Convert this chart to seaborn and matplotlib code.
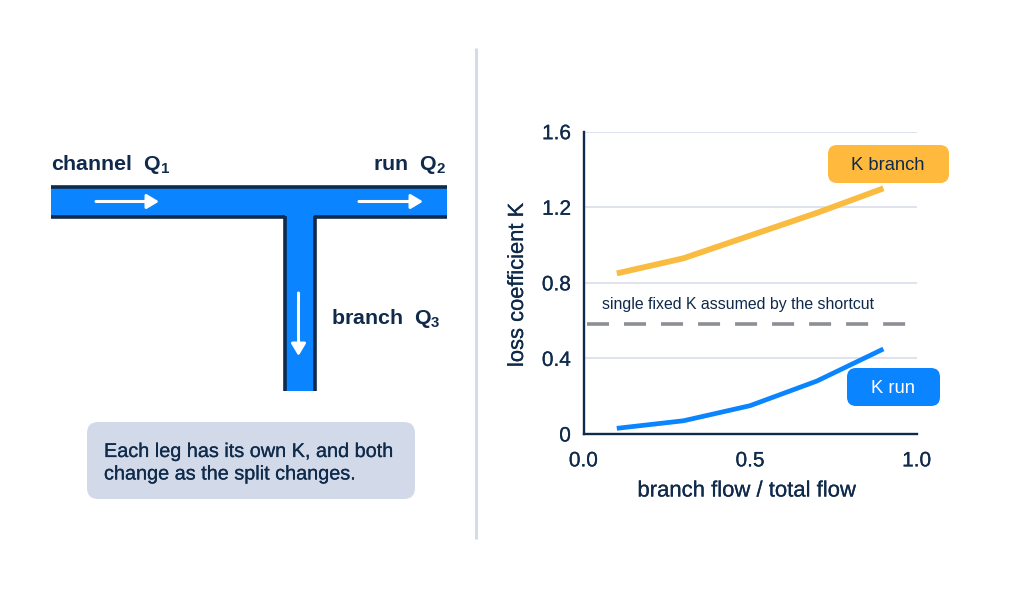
import pandas as pd
import matplotlib.pyplot as plt
import matplotlib.patheffects as pe
import seaborn as sns
from matplotlib.patches import FancyBboxPatch, Rectangle

W = 1024
H = 598
NAVY = '#0f2a4a'
BLUE = '#0a84ff'
AMBER = '#ffb93c'
GRID = '#d5dbea'

split = [0.1, 0.3, 0.5, 0.7, 0.9]
k_branch = [0.85, 0.93, 1.05, 1.17, 1.30]
k_run = [0.03, 0.07, 0.15, 0.28, 0.45]
k_fixed = 0.58
x_ticks = [0.0, 0.5, 1.0]
y_ticks = [0, 0.4, 0.8, 1.2, 1.6]
y_labels = ['0', '0.4', '0.8', '1.2', '1.6']

sns.set_theme(style='white')
plt.rcParams['font.family'] = ['Liberation Sans', 'DejaVu Sans']
plt.rcParams['mathtext.fontset'] = 'custom'
plt.rcParams['mathtext.rm'] = 'Liberation Sans:bold'
plt.rcParams['mathtext.default'] = 'rm'

# thin stroke gives the medium weight that Liberation does not have
medium = [pe.withStroke(linewidth=0.15, foreground=NAVY)]

df = pd.DataFrame({'split': split + split,
                   'k': k_branch + k_run,
                   'leg': ['branch'] * 5 + ['run'] * 5})

fig = plt.figure(figsize=(W / 100, H / 100), dpi=100, facecolor='white')

# background layer in pixel coords, holds the T diagram and the callouts
bg = fig.add_axes([0, 0, 1, 1])
bg.set_xlim(0, W)
bg.set_ylim(H, 0)
bg.axis('off')

# divider
bg.plot([476, 476], [48, 539], color=GRID, lw=2.2, solid_capstyle='butt')

# pipe fill
bg.add_patch(Rectangle((51, 186), 396, 31, fc=BLUE, ec='none'))
bg.add_patch(Rectangle((284, 217), 31, 174, fc=BLUE, ec='none'))
# pipe walls
bg.plot([51, 447], [186.5, 186.5], color=NAVY, lw=2.6, solid_capstyle='butt')
bg.plot([51, 285], [216.5, 216.5], color=NAVY, lw=2.6, solid_capstyle='butt')
bg.plot([314, 447], [216.5, 216.5], color=NAVY, lw=2.6, solid_capstyle='butt')
bg.plot([285, 285], [216, 391], color=NAVY, lw=2.6, solid_capstyle='butt')
bg.plot([314.5, 314.5], [216, 391], color=NAVY, lw=2.6, solid_capstyle='butt')


def flow_arrow(x0, y0, x1, y1):
    bg.annotate('', xy=(x1, y1), xytext=(x0, y0),
                arrowprops=dict(arrowstyle='-|>,head_length=0.6,head_width=0.36', color='white',
                                lw=2.2, shrinkA=0, shrinkB=0))


flow_arrow(96, 201.5, 159, 201.5)
flow_arrow(359, 201.5, 423, 201.5)
flow_arrow(298.5, 293, 298.5, 356)

label = dict(color=NAVY, fontsize=15.4, fontweight='bold', va='center')
bg.text(51, 165, r'channel  Q$_{1}$', ha='left', **label)
bg.text(446, 165, r'run  Q$_{2}$', ha='right', **label)
bg.text(331, 319, r'branch  Q$_{3}$', ha='left', **label)

# note box
bg.add_patch(FancyBboxPatch((87, 422), 328, 77, boxstyle='round,pad=0,rounding_size=11',
                            fc='#d2d9e8', ec='none'))
bg.text(104, 451.5, 'Each leg has its own K, and both', color=NAVY, fontsize=14.3, va='center',
        path_effects=medium)
bg.text(104, 474, 'change as the split changes.', color=NAVY, fontsize=14.3, va='center',
        path_effects=medium)

# chart, 583.5-916.7 px wide and 131.7-434 px tall
ax = fig.add_axes([583.5 / W, 1 - 434 / H, 333.2 / W, 302.3 / H])
ax.patch.set_alpha(0)
sns.lineplot(data=df, x='split', y='k', hue='leg', palette={'branch': '#f9bb40', 'run': BLUE},
             size='leg', sizes={'branch': 4.2, 'run': 3.4}, legend=False, ax=ax,
             solid_capstyle='butt', zorder=3)
ax.plot([0.01, 0.97], [k_fixed, k_fixed], color='#8c8f96', lw=2.6, zorder=2,
        dashes=(6.1, 4.15), dash_capstyle='butt')

ax.set_xlim(0, 1)
ax.set_ylim(0, 1.6)
ax.set_xticks(x_ticks)
ax.set_xticklabels(['0.0', '0.5', '1.0'])
ax.set_yticks(y_ticks)
ax.set_yticklabels(y_labels)
for y in y_ticks[1:]:
    ax.axhline(y, color=GRID, lw=1.1, zorder=1)
for s in ['top', 'right']:
    ax.spines[s].set_visible(False)
for s in ['left', 'bottom']:
    ax.spines[s].set_color(NAVY)
    ax.spines[s].set_linewidth(1.7)
ax.tick_params(axis='x', length=5.5, width=1.7, color=NAVY, labelcolor=NAVY, labelsize=15, pad=7, direction='out')
ax.tick_params(axis='y', length=0, labelcolor=NAVY, labelsize=15, pad=9)
for t in ax.get_xticklabels() + ax.get_yticklabels():
    t.set_path_effects(medium)
ax.set_xlabel('')
ax.set_ylabel('')

bg.text(747, 491, 'branch flow / total flow', color=NAVY, fontsize=15.9, ha='center', va='center',
        path_effects=medium)
bg.text(517.5, 285, 'loss coefficient K', color=NAVY, fontsize=15.8, rotation=90, ha='center', va='center',
        path_effects=medium)
bg.text(738.5, 304.5, 'single fixed K assumed by the shortcut', color=NAVY, fontsize=11.4, ha='center', va='center')

# series tags sit above the chart
top = fig.add_axes([0, 0, 1, 1])
top.set_xlim(0, W)
top.set_ylim(H, 0)
top.axis('off')
top.add_patch(FancyBboxPatch((828, 145), 121, 38, boxstyle='round,pad=0,rounding_size=9', fc=AMBER, ec='none'))
top.text(888, 165, 'K branch', color=NAVY, fontsize=13.2, ha='center', va='center')
top.add_patch(FancyBboxPatch((847, 368), 93, 38, boxstyle='round,pad=0,rounding_size=9', fc=BLUE, ec='none'))
top.text(893, 388.5, 'K run', color='white', fontsize=13.2, ha='center', va='center')

fig.savefig('out.png', dpi=100, facecolor='white')
